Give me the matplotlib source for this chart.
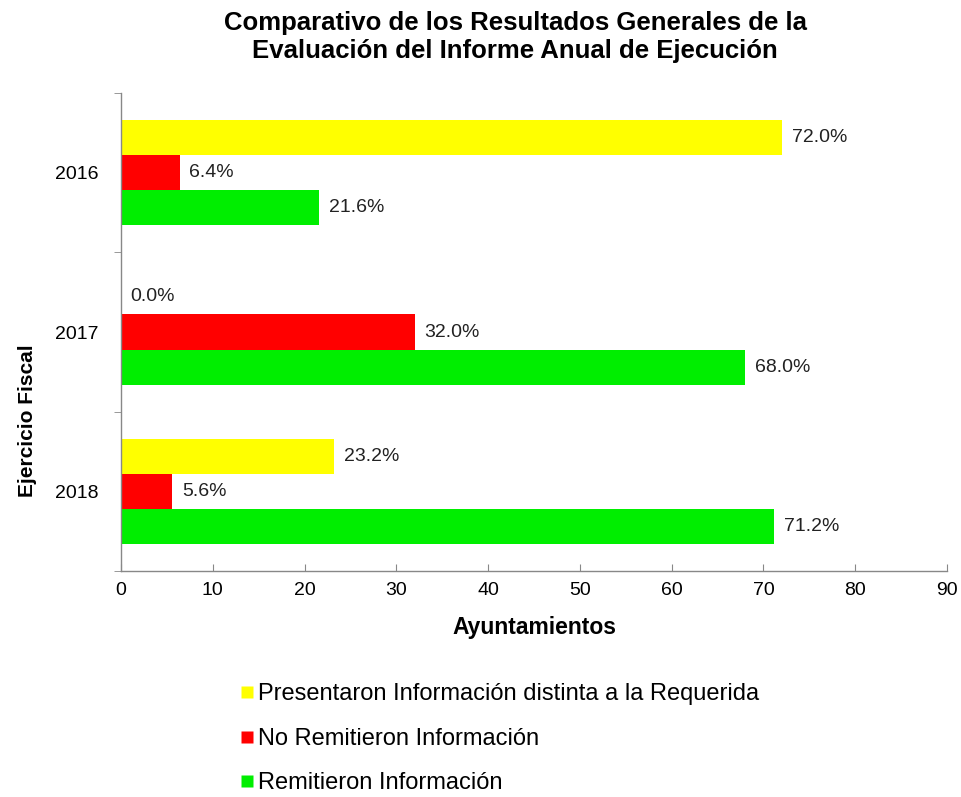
import matplotlib
matplotlib.use("Agg")
import matplotlib.pyplot as plt
import numpy as np
from matplotlib.lines import Line2D

years = ["2016", "2017", "2018"]
series_names = ["Presentaron Información distinta a la Requerida",
                "No Remitieron Información",
                "Remitieron Información"]
presentaron = [72.0, 0.0, 23.2]
no_remitieron = [6.4, 32.0, 5.6]
remitieron = [21.6, 68.0, 71.2]
colors = ["#FFFF00", "#FF0000", "#00EE00"]
xticks = [0, 10, 20, 30, 40, 50, 60, 70, 80, 90]

plt.rcParams['font.family'] = ['Liberation Sans', 'DejaVu Sans']

fig = plt.figure(figsize=(9.61, 7.97), dpi=100)
ax = fig.add_axes([121/961, 1-571/797, (947-121)/961, (571-93)/797])

ypos = np.array([2, 1, 0], dtype=float)
h = 0.22
offsets = [h, 0, -h]
data = [presentaron, no_remitieron, remitieron]
for vals, off, col in zip(data, offsets, colors):
    bars = ax.barh(ypos + off, vals, height=h, color=col, edgecolor='none')
    for b, v in zip(bars, vals):
        ax.annotate(f"{v:.1f}%", (v, b.get_y() + b.get_height()/2),
                    xytext=(7, 0), textcoords='offset points',
                    va='center', ha='left', fontsize=14, color='#222222')

ax.set_xlim(0, 90)
ax.set_ylim(-0.5, 2.5)
ax.set_xticks(xticks)
ax.set_xticklabels([str(t) for t in xticks],
                   family=['Liberation Sans Narrow', 'Liberation Sans'], fontsize=14)
ax.set_yticks(ypos)
ax.set_yticklabels(years, fontsize=14)
ax.set_yticks([-0.5, 0.5, 1.5, 2.5], minor=True)
ax.tick_params(axis='y', which='major', length=0, pad=16)
ax.tick_params(axis='y', which='minor', length=5, direction='out', color='#888888')
ax.tick_params(axis='x', which='major', length=5, direction='in', color='#888888', pad=8)

for s in ['top', 'right']:
    ax.spines[s].set_visible(False)
for s in ['left', 'bottom']:
    ax.spines[s].set_color('#888888')
    ax.spines[s].set_linewidth(1)

ax.set_xlabel("Ayuntamientos", fontsize=16.5, fontweight='bold', labelpad=12)
fig.text(28/961, 1-421/797, "Ejercicio Fiscal", rotation=90, ha='center', va='center',
         fontsize=15, fontweight='bold', family=['Liberation Sans Narrow', 'Liberation Sans'])

fig.text(515/961, 1-23/797, "Comparativo de los Resultados Generales de la",
         ha='center', va='center', fontsize=18.5, fontweight='bold')
fig.text(515/961, 1-51/797, "Evaluación del Informe Anual de Ejecución",
         ha='center', va='center', fontsize=18.5, fontweight='bold')

handles = [Line2D([], [], marker='s', linestyle='none', markersize=8,
                  markerfacecolor=c, markeredgecolor='none') for c in colors]
fig.legend(handles, series_names, loc='upper left', bbox_to_anchor=(230/961, 1-674/797),
           frameon=False, fontsize=17, handlelength=0.6, handletextpad=0.2,
           labelspacing=0.95, borderaxespad=0)

fig.savefig("out.png", dpi=100)
